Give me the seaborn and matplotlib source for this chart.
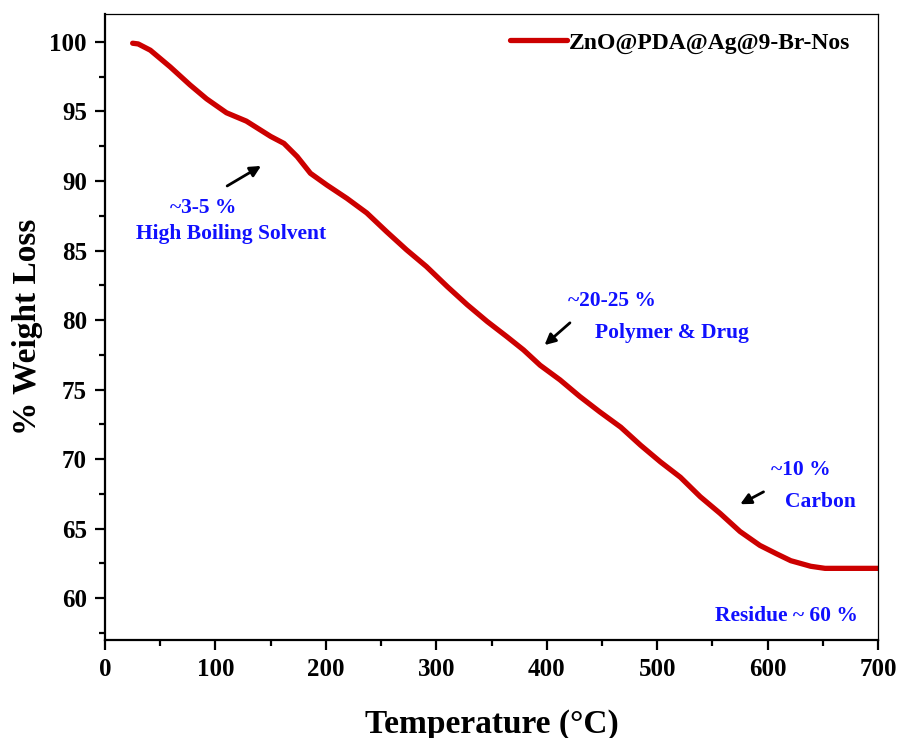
import matplotlib
matplotlib.use("Agg")
import matplotlib.pyplot as plt
import seaborn as sns
import pandas as pd
from matplotlib.ticker import MultipleLocator

# ---- data ----
temperature = [25, 30, 41, 59, 77, 92, 110, 128, 146, 150, 162, 174, 186, 201, 219,
               237, 255, 273, 291, 310, 328, 346, 364, 379, 394, 412, 430, 448,
               467, 485, 503, 521, 539, 557, 575, 593, 608, 621, 639, 652, 675, 700]
weight = [99.9, 99.85, 99.4, 98.2, 96.9, 95.9, 94.9, 94.3, 93.4, 93.2, 92.7, 91.75,
          90.55, 89.7, 88.75, 87.7, 86.35, 85.05, 83.85, 82.4, 81.1, 79.9, 78.8,
          77.85, 76.75, 75.7, 74.5, 73.4, 72.3, 71.0, 69.8, 68.7, 67.3, 66.1,
          64.8, 63.8, 63.2, 62.7, 62.3, 62.15, 62.15, 62.15]
series_label = "ZnO@PDA@Ag@9-Br-Nos"

x_ticks = [0, 100, 200, 300, 400, 500, 600, 700]
y_ticks = [60, 65, 70, 75, 80, 85, 90, 95, 100]

annotations = [
    ("~3-5 %", 89, 88.05),
    ("High Boiling Solvent", 114, 86.2),
    ("~20-25 %", 459, 81.4),
    ("Polymer & Drug", 513, 79.05),
    ("~10 %", 630, 69.2),
    ("Carbon", 648, 66.9),
    ("Residue ~ 60 %", 617, 58.7),
]
arrows = [
    ((110.6, 89.64), (141.3, 91.08)),
    ((421.0, 79.8), (398.0, 78.2)),
    ((596.3, 67.65), (575.2, 66.76)),
]

df = pd.DataFrame({"Temperature": temperature, "Weight": weight})

sns.set_style("ticks")
plt.rcParams["font.family"] = ["Liberation Serif", "DejaVu Serif"]
plt.rcParams["font.weight"] = "bold"
plt.rcParams["text.color"] = "black"
plt.rcParams["axes.labelcolor"] = "black"
plt.rcParams["xtick.color"] = "black"
plt.rcParams["ytick.color"] = "black"

fig = plt.figure(figsize=(9, 7.38), dpi=100)
ax = fig.add_axes([0.1167, 0.1328, 0.8589, 0.8482])

sns.lineplot(data=df, x="Temperature", y="Weight", ax=ax, color="#CC0000",
             linewidth=3.8, label=series_label, solid_capstyle="round")

ax.set_xlim(0, 700)
ax.set_ylim(57, 102)
ax.set_xticks(x_ticks)
ax.set_yticks(y_ticks)
ax.xaxis.set_minor_locator(MultipleLocator(50))
ax.yaxis.set_minor_locator(MultipleLocator(2.5))
ax.tick_params(which="major", direction="out", length=7, width=1.6,
               labelsize=18, pad=6, top=False, right=False,
               colors="black", labelcolor="black")
ax.tick_params(which="minor", direction="out", length=4, width=1.6,
               top=False, right=False, colors="black")
for lbl in ax.get_xticklabels() + ax.get_yticklabels():
    lbl.set_fontweight("bold")

ax.spines["left"].set_linewidth(1.6)
ax.spines["bottom"].set_linewidth(1.6)
ax.spines["top"].set_linewidth(0.9)
ax.spines["right"].set_linewidth(0.9)
for s in ax.spines.values():
    s.set_visible(True)
    s.set_color("black")

ax.set_xlabel("Temperature (°C)", fontsize=24, fontweight="bold", labelpad=20,
              color="black")
ax.set_ylabel("% Weight Loss", fontsize=24, fontweight="bold", labelpad=5,
              color="black")

leg = ax.legend(loc="upper right", frameon=False,
                handlelength=2.4, handletextpad=0.1,
                bbox_to_anchor=(0.992, 1.005),
                prop={"weight": "bold", "size": 17})
for t in leg.get_texts():
    t.set_color("black")

for text, tx, ty in annotations:
    ax.text(tx, ty, text, color="#1010FF", fontsize=15.5, fontweight="bold",
            ha="center", va="center")

for (x0, y0), (x1, y1) in arrows:
    ax.annotate("", xy=(x1, y1), xytext=(x0, y0),
                arrowprops=dict(arrowstyle="-|>", color="black", lw=2,
                                mutation_scale=16, shrinkA=0, shrinkB=0))

fig.savefig("out.png", dpi=100)
